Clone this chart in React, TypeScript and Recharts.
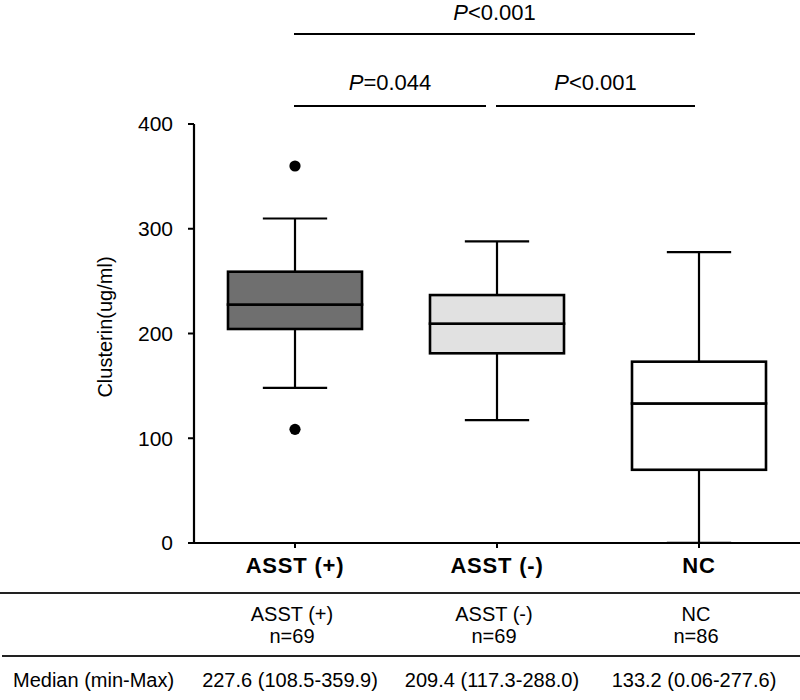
import React from 'react';
import { ComposedChart, Bar, Line, XAxis, YAxis } from 'recharts';

// ---- data ----
const categories = ['ASST (+)', 'ASST (-)', 'NC'];
const whiskerLow = [148.0, 117.3, 0.06];
const quartile1 = [204.3, 181.1, 69.9];
const medians = [227.6, 209.4, 133.2];
const quartile3 = [259.0, 236.7, 173.1];
const whiskerHigh = [309.8, 288.0, 277.6];
const outlierHigh: (number | null)[] = [359.9, null, null];
const outlierLow: (number | null)[] = [108.5, null, null];
const boxFills = ['#6f6f6f', '#e1e1e1', '#ffffff'];
const sampleSizes = [69, 69, 86];
const medianLabels = ['227.6', '209.4', '133.2'];
const minLabels = ['108.5', '117.3', '0.06'];
const maxLabels = ['359.9', '288.0', '277.6'];
const yTicks = [0, 100, 200, 300, 400];
const comparisons = [
  { from: 0, to: 2, op: '<', p: '0.001', level: 0 },
  { from: 0, to: 1, op: '=', p: '0.044', level: 1 },
  { from: 1, to: 2, op: '<', p: '0.001', level: 1 },
];

const data = categories.map((name, i) => ({
  name,
  base: whiskerLow[i],
  lowW: quartile1[i] - whiskerLow[i],
  boxLo: medians[i] - quartile1[i],
  boxHi: quartile3[i] - medians[i],
  highW: whiskerHigh[i] - quartile3[i],
  outHigh: outlierHigh[i],
  outLow: outlierLow[i],
}));

// ---- layout ----
const W = 800;
const H = 700;
const FONT = '"Liberation Sans", Arial, Helvetica, sans-serif';
const plotLeft = 194;
const plotRight = 800;
const plotTop = 124;
const plotBottom = 543;
const yAxisWidth = 60;
const xAxisHeight = 40;
const band = (plotRight - plotLeft) / categories.length;
const center = (i: number) => plotLeft + band * (i + 0.5);
const CAP_RATIO = 0.24;

const LowWhisker = (props: any) => {
  const { x, y, width, height } = props;
  if (x == null || y == null) return <g />;
  const cx = x + width / 2;
  const cap = width * CAP_RATIO;
  return (
    <g>
      <line x1={cx} x2={cx} y1={y} y2={y + height} stroke="#000" strokeWidth={2.2} />
      <line x1={cx - cap} x2={cx + cap} y1={y + height} y2={y + height} stroke="#000" strokeWidth={2.2} />
    </g>
  );
};

const HighWhisker = (props: any) => {
  const { x, y, width, height } = props;
  if (x == null || y == null) return <g />;
  const cx = x + width / 2;
  const cap = width * CAP_RATIO;
  return (
    <g>
      <line x1={cx} x2={cx} y1={y} y2={y + height} stroke="#000" strokeWidth={2.2} />
      <line x1={cx - cap} x2={cx + cap} y1={y} y2={y} stroke="#000" strokeWidth={2.2} />
    </g>
  );
};

const BoxPart = (props: any) => {
  const { x, y, width, height, index } = props;
  if (x == null || y == null) return <g />;
  return (
    <rect x={x} y={y} width={width} height={height} fill={boxFills[index] ?? '#fff'} stroke="#000" strokeWidth={2.6} />
  );
};

const Empty = () => <g />;

const OutlierDot = (props: any) => {
  const { cx, cy, value, index } = props;
  if (value == null || cy == null || isNaN(cy)) return <g key={`o-${index}`} />;
  return <circle key={`o-${index}-${cy}`} cx={cx} cy={cy} r={5.6} fill="#000" />;
};

const XTick = (props: any) => {
  const { x, y, payload } = props;
  return (
    <text x={x} y={y} dy="0.71em" textAnchor="middle" fontFamily={FONT} fontWeight="bold" fontSize={22} letterSpacing={0.8} fill="#000">
      {payload.value}
    </text>
  );
};

export default function App() {
  return (
    <div style={{ position: 'absolute', left: 0, top: 0, width: W, height: H, background: '#fff' }}>
      <ComposedChart
        width={W}
        height={H}
        data={data}
        margin={{ top: plotTop, right: W - plotRight, bottom: H - plotBottom - xAxisHeight, left: plotLeft - yAxisWidth }}
        barCategoryGap={0}
        style={{ position: 'absolute', left: 0, top: 0 }}
      >
        <XAxis
          dataKey="name"
          height={xAxisHeight}
          axisLine={{ stroke: '#000', strokeWidth: 2.2 }}
          tickLine={{ stroke: '#000', strokeWidth: 2 }}
          tickSize={5}
          tickMargin={9}
          tick={<XTick />}
          interval={0}
        />
        <YAxis
          width={yAxisWidth}
          domain={[0, 400]}
          ticks={yTicks}
          allowDataOverflow
          axisLine={{ stroke: '#000', strokeWidth: 2.2 }}
          tickLine={{ stroke: '#000', strokeWidth: 2 }}
          tickSize={6}
          tickMargin={15}
          tick={{ fill: '#000', fontSize: 21, fontFamily: FONT }}
        />
        <Bar dataKey="base" stackId="box" barSize={134} shape={<Empty />} isAnimationActive={false} />
        <Bar dataKey="lowW" stackId="box" barSize={134} shape={<LowWhisker />} isAnimationActive={false} />
        <Bar dataKey="boxLo" stackId="box" barSize={134} shape={<BoxPart />} isAnimationActive={false} />
        <Bar dataKey="boxHi" stackId="box" barSize={134} shape={<BoxPart />} isAnimationActive={false} />
        <Bar dataKey="highW" stackId="box" barSize={134} shape={<HighWhisker />} isAnimationActive={false} />
        <Line dataKey="outHigh" stroke="none" dot={<OutlierDot />} activeDot={false} isAnimationActive={false} />
        <Line dataKey="outLow" stroke="none" dot={<OutlierDot />} activeDot={false} isAnimationActive={false} />
      </ComposedChart>
      <svg width={W} height={H} style={{ position: 'absolute', left: 0, top: 0, pointerEvents: 'none' }} fontFamily={FONT}>
        {/* y-axis title */}
        <text transform={`translate(105, 327) rotate(-90)`} textAnchor="middle" dominantBaseline="central" fontSize={20} fill="#000">
          Clusterin(ug/ml)
        </text>
        {/* significance brackets */}
        {comparisons.map((c, k) => {
          const sameLevelNext = comparisons.some((o) => o !== c && o.level === c.level && o.from === c.to);
          const x1 = center(c.from) - 1;
          const x2 = center(c.to) - (sameLevelNext ? 11 : 4);
          const ly = c.level === 0 ? 34 : 106;
          const ty = c.level === 0 ? 20 : 90;
          return (
            <g key={k}>
              <line x1={x1} x2={x2} y1={ly} y2={ly} stroke="#000" strokeWidth={2.2} />
              <text x={(x1 + x2) / 2} y={ty} textAnchor="middle" fontSize={22} fill="#000">
                <tspan fontStyle="italic">P</tspan>
                {c.op}
                {c.p}
              </text>
            </g>
          );
        })}
        {/* table */}
        <line x1={0} x2={W} y1={593} y2={593} stroke="#222" strokeWidth={2} />
        <line x1={2} x2={W} y1={656} y2={656} stroke="#222" strokeWidth={2} />
        {categories.map((c, i) => (
          <g key={c}>
            <text x={center(i) - 3} y={621} textAnchor="middle" fontSize={20} fill="#000">{c}</text>
            <text x={center(i) - 3} y={643} textAnchor="middle" fontSize={20} fill="#000">n={sampleSizes[i]}</text>
            <text x={center(i) - 5} y={687} textAnchor="middle" fontSize={20} fill="#000">
              {medianLabels[i]} ({minLabels[i]}-{maxLabels[i]})
            </text>
          </g>
        ))}
        <text x={13} y={687} fontSize={20} fill="#000">Median (min-Max)</text>
      </svg>
    </div>
  );
}
